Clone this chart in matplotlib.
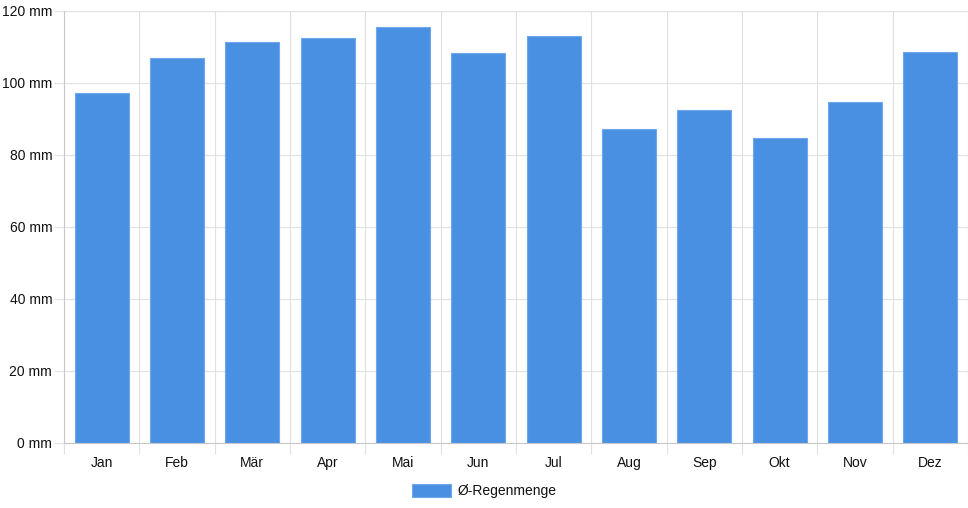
import numpy as np
import matplotlib.pyplot as plt
from matplotlib.patches import Patch

months = ['Jan', 'Feb', 'Mär', 'Apr', 'Mai', 'Jun', 'Jul', 'Aug', 'Sep', 'Okt', 'Nov', 'Dez']
rain_mm = [97.2, 106.9, 111.4, 112.4, 115.6, 108.3, 113.1, 87.3, 92.4, 84.7, 94.6, 108.6]
y_ticks = [0, 20, 40, 60, 80, 100, 120]

plt.rcParams['font.family'] = ['Liberation Sans', 'DejaVu Sans']

W, H = 968, 508
fig = plt.figure(figsize=(W / 100, H / 100), dpi=100)
ax = fig.add_axes([64 / W, (H - 443) / H, 904 / W, 432 / H])

bar_color = '#4a90e2'
x = np.arange(len(months))
ax.bar(x, rain_mm, width=0.72, color=bar_color, edgecolor='#6fa8ea', linewidth=0.8, zorder=3)

ax.set_xlim(-0.5, len(months) - 0.5)
ax.set_ylim(0, 120)
ax.set_yticks(y_ticks)
ax.set_yticklabels([f'{v} mm' for v in y_ticks])
ax.set_xticks(x)
ax.set_xticklabels(months)
ax.set_xticks(np.arange(-0.5, len(months)), minor=True)

fs = 10
grid_c = '#e0e0e0'
ax.grid(axis='y', which='major', color=grid_c, linewidth=0.8, zorder=0)
ax.grid(axis='x', which='minor', color=grid_c, linewidth=0.8, zorder=0)
ax.tick_params(axis='x', which='major', length=0, pad=9.5, labelsize=fs)
ax.tick_params(axis='x', which='minor', length=8, color=grid_c, width=0.8)
ax.tick_params(axis='y', length=7, color=grid_c, width=0.8, pad=1.5, labelsize=fs)
ax.tick_params(axis='both', labelcolor='#111111')

for side in ['top', 'right']:
    ax.spines[side].set_visible(False)
ax.spines['left'].set_color('#c8c8c8')
ax.spines['bottom'].set_color('#c8c8c8')
ax.spines['left'].set_linewidth(0.8)
ax.spines['bottom'].set_linewidth(0.8)

handle = Patch(facecolor=bar_color, edgecolor='#6fa8ea', linewidth=0.8)
fig.legend([handle], ['Ø-Regenmenge'], loc='center', bbox_to_anchor=(484 / W, 17 / H),
           frameon=False, fontsize=fs, handlelength=2.8, handleheight=1.05, handletextpad=0.45,
           borderpad=0, labelcolor='#111111')

fig.savefig('out.png', dpi=100)
